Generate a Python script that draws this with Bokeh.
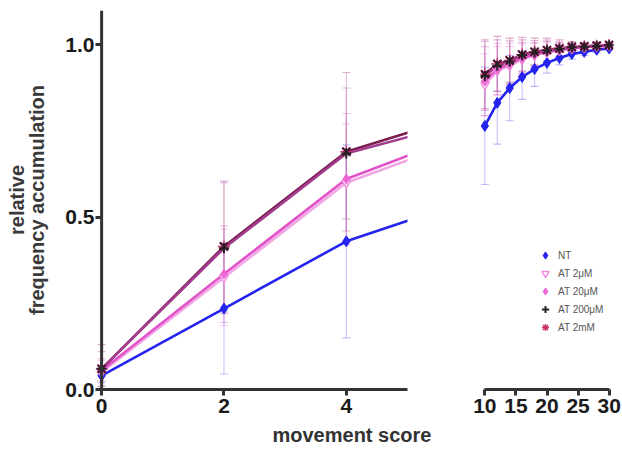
from bokeh.plotting import figure
from bokeh.models import (ColumnDataSource, Whisker, TeeHead, FixedTicker, Title,
                          PrintfTickFormatter, Legend, LegendItem, Range1d, Span)
from bokeh.layouts import row
from bokeh.embed import file_html
from bokeh.resources import INLINE

# ---------------- data ----------------
score = [0, 2, 4, 6, 10, 12, 14, 16, 18, 20, 22, 24, 26, 28, 30]

nt        = [0.040, 0.235, 0.430, 0.550, 0.765, 0.832, 0.875, 0.907, 0.930, 0.948, 0.962, 0.974, 0.980, 0.986, 0.990]
nt_sd     = [0.020, 0.190, 0.280, 0.260, 0.170, 0.120, 0.095, 0.065, 0.050, 0.030, 0.020, 0.015, 0.010, 0.008, 0.005]
at2um     = [0.050, 0.325, 0.600, 0.730, 0.885, 0.925, 0.940, 0.958, 0.970, 0.978, 0.985, 0.990, 0.993, 0.996, 0.998]
at2um_sd  = [0.040, 0.140, 0.170, 0.160, 0.090, 0.070, 0.055, 0.045, 0.035, 0.030, 0.020, 0.015, 0.010, 0.008, 0.005]
at20um    = [0.055, 0.335, 0.611, 0.745, 0.895, 0.930, 0.945, 0.962, 0.972, 0.980, 0.986, 0.990, 0.994, 0.996, 0.998]
at20um_sd = [0.030, 0.140, 0.190, 0.170, 0.100, 0.075, 0.060, 0.045, 0.035, 0.030, 0.020, 0.015, 0.010, 0.008, 0.005]
at200um   = [0.060, 0.410, 0.685, 0.780, 0.910, 0.940, 0.952, 0.970, 0.978, 0.984, 0.989, 0.993, 0.995, 0.997, 0.999]
at200um_sd= [0.050, 0.190, 0.190, 0.170, 0.100, 0.075, 0.060, 0.045, 0.035, 0.030, 0.020, 0.015, 0.010, 0.008, 0.005]
at2mm     = [0.060, 0.415, 0.690, 0.800, 0.915, 0.945, 0.955, 0.972, 0.980, 0.985, 0.990, 0.994, 0.996, 0.998, 1.000]
at2mm_sd  = [0.070, 0.190, 0.230, 0.200, 0.100, 0.080, 0.065, 0.050, 0.040, 0.035, 0.025, 0.015, 0.010, 0.008, 0.005]

series_names = ["NT", "AT 2μM", "AT 20μM", "AT 2mM", "AT 200μM"]
legend_order = ["NT", "AT 2μM", "AT 20μM", "AT 200μM", "AT 2mM"]
left_ticks = [0, 2, 4]
right_ticks = [10, 15, 20, 25, 30]
y_ticks = [0.0, 0.5, 1.0]

FONT = "Liberation Sans"
AXIS_COLOR = "#333333"
TICK_SIZE = "21px"

styles = {
    "NT":       dict(vals=nt, sd=nt_sd, line="#2424ee", err="#6b6bff",
                     marker=dict(marker="diamond", size=11, fill_color="#2424ee", line_color="#2424ee")),
    "AT 2μM":   dict(vals=at2um, sd=at2um_sd, line="#f2a6e6", err="#f08ee0",
                     marker=dict(marker="inverted_triangle", size=9, fill_color="white", line_color="#f08ee0", line_width=1.5)),
    "AT 20μM":  dict(vals=at20um, sd=at20um_sd, line="#e152c8", err="#e070d0",
                     marker=dict(marker="diamond", size=10, fill_color="#ee66d4", line_color="#ee66d4")),
    "AT 2mM":   dict(vals=at2mm, sd=at2mm_sd, line="#7a1f50", err="#c04a90",
                     marker=dict(marker="asterisk", size=12, line_color="#c8306e", line_width=1.4)),
    "AT 200μM": dict(vals=at200um, sd=at200um_sd, line="#a23c8e", err="#b868b0",
                     marker=dict(marker="cross", size=10, line_color="#222222", line_width=2)),
}
# darker "x" drawn over the 2 mM markers inside the plot (as in the reference)
overlay_2mm = dict(marker="x", size=11, line_color="#4a1030", line_width=2.2)


def base_fig(width, x_range, bl, br):
    p = figure(width=width, height=452, x_range=x_range, y_range=Range1d(0, 1.1),
               output_backend="svg", toolbar_location=None,
               min_border_left=bl, min_border_right=br, min_border_top=10, min_border_bottom=63)
    p.grid.visible = False
    p.outline_line_color = None
    p.background_fill_color = "white"
    p.border_fill_color = "white"
    ax = p.xaxis[0]
    ax.axis_line_width = 3
    ax.axis_line_color = AXIS_COLOR
    ax.major_tick_line_width = 3
    ax.major_tick_line_color = AXIS_COLOR
    ax.major_tick_out = 6
    ax.major_tick_in = 0
    ax.minor_tick_line_color = None
    ax.major_label_text_font = FONT
    ax.major_label_text_font_style = "bold"
    ax.major_label_text_font_size = TICK_SIZE
    ax.major_label_text_color = "#1a1a1a"
    ax.major_label_standoff = 3
    return p


def draw(p, keep):
    idx = [i for i, s in enumerate(score) if keep(s)]
    xs = [score[i] for i in idx]
    renderers = {}
    for name in series_names:
        st = styles[name]
        ys = [st["vals"][i] for i in idx]
        sds = [st["sd"][i] for i in idx]
        eidx = [k for k, s in enumerate(xs) if s <= 4 or s >= 10]
        esrc = ColumnDataSource(dict(x=[xs[k] for k in eidx],
                                     lo=[ys[k] - sds[k] for k in eidx],
                                     hi=[ys[k] + sds[k] for k in eidx]))
        p.add_layout(Whisker(source=esrc, base="x", lower="lo", upper="hi",
                             line_color=st["err"], line_alpha=0.35, line_width=1.2,
                             upper_head=TeeHead(size=8, line_color=st["err"], line_alpha=0.45, line_width=1.2),
                             lower_head=TeeHead(size=8, line_color=st["err"], line_alpha=0.45, line_width=1.2)))
    for name in series_names:
        st = styles[name]
        src = ColumnDataSource(dict(x=xs, y=[st["vals"][i] for i in idx]))
        p.line("x", "y", source=src, line_color=st["line"], line_width=2.6)
    for name in series_names:
        st = styles[name]
        src = ColumnDataSource(dict(x=xs, y=[st["vals"][i] for i in idx]))
        renderers[name] = p.scatter("x", "y", source=src, **st["marker"])
        if name == "AT 2mM":
            p.scatter("x", "y", source=src, **overlay_2mm)
    return renderers


# ---------------- left panel (0-5) ----------------
p1 = base_fig(470, Range1d(-0.1, 5), 95, 63)
p1.xaxis[0].ticker = FixedTicker(ticks=left_ticks)
p1.xaxis[0].bounds = (0, 5)
ya = p1.yaxis[0]
ya.ticker = FixedTicker(ticks=y_ticks)
ya.formatter = PrintfTickFormatter(format="%.1f")
ya.axis_line_color = None
ya.major_tick_in = 6
ya.major_tick_out = 0
ya.major_tick_line_width = 3
ya.major_tick_line_color = AXIS_COLOR
ya.minor_tick_line_color = None
ya.major_label_text_font = FONT
ya.major_label_text_font_style = "bold"
ya.major_label_text_font_size = TICK_SIZE
ya.major_label_text_color = "#1a1a1a"
ya.major_label_standoff = 1
ya.axis_label = "relative\nfrequency accumulation"
ya.axis_label_text_font = FONT
ya.axis_label_text_font_style = "bold"
ya.axis_label_text_font_size = "20px"
ya.axis_label_text_line_height = 0.9
ya.axis_label_text_color = "#3a3a3a"
ya.axis_label_standoff = 14
p1.add_layout(Span(location=0, dimension="height", line_color=AXIS_COLOR, line_width=3))
draw(p1, lambda s: s <= 6)
p1.add_layout(Title(text="movement score", align="left", offset=177, standoff=12,
                    text_font=FONT, text_font_style="bold", text_font_size="20px",
                    text_color="#333333"), "below")

# ---------------- right panel (10-30) ----------------
p2 = base_fig(152, Range1d(9.3, 30.7), 10, 9)
p2.xaxis[0].ticker = FixedTicker(ticks=right_ticks)
p2.xaxis[0].bounds = (10, 30)
p2.yaxis.visible = False
rr = draw(p2, lambda s: s >= 10)

legend = Legend(items=[LegendItem(label=n, renderers=[rr[n]]) for n in legend_order],
                location=(56, 53), glyph_width=18, glyph_height=18, label_height=18,
                spacing=0, padding=0, margin=0, label_standoff=4,
                label_text_font=FONT, label_text_font_size="10px", label_text_color="#555555",
                background_fill_alpha=0, border_line_alpha=0)
p2.add_layout(legend)

layout = row(p1, p2)
open("out.html", "w").write(file_html(layout, INLINE))
